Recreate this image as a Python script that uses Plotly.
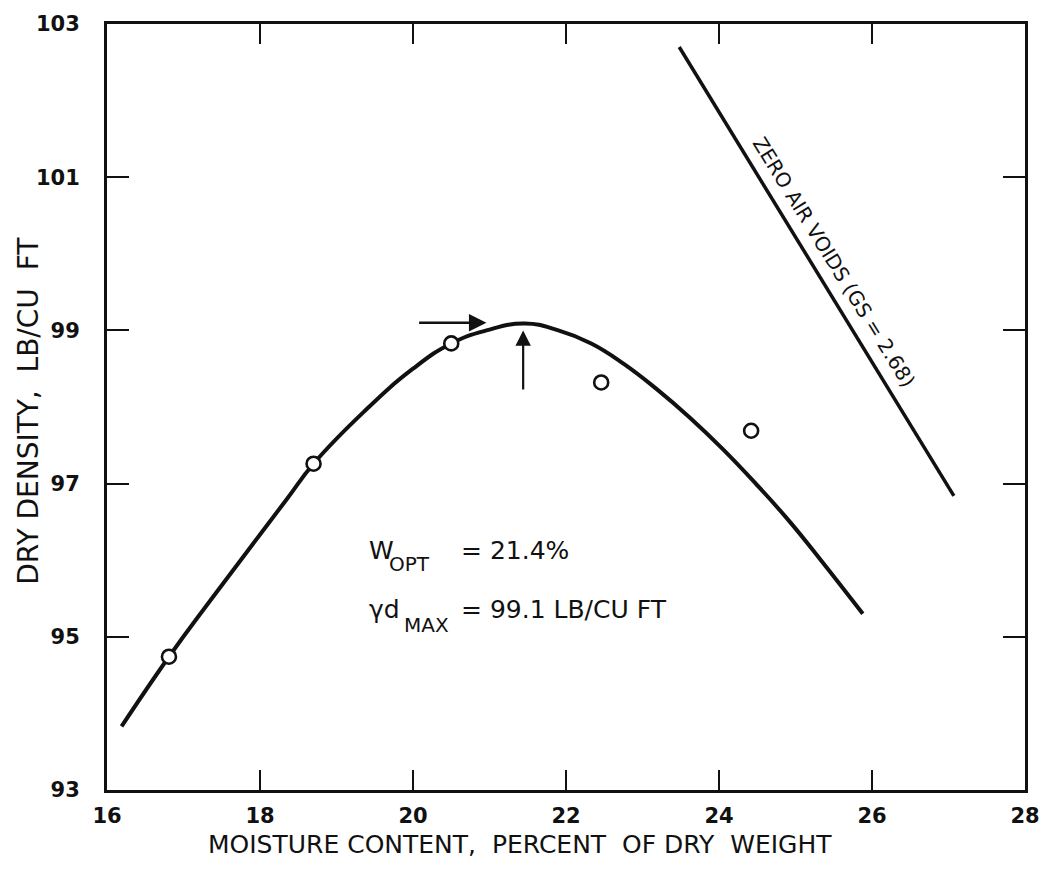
import plotly.graph_objects as go

# ---- data ----
x_ticks = [16, 18, 20, 22, 24, 26, 28]
y_ticks = [93, 95, 97, 99, 101, 103]

# measured compaction points (moisture %, dry density)
pts_w = [16.81, 18.70, 20.50, 22.46, 24.42]
pts_d = [94.74, 97.26, 98.83, 98.32, 97.69]

# hand-drawn compaction curve
curve_w = [16.19, 16.81, 17.37, 18.33, 18.70, 19.36, 20.00, 20.50, 20.96, 21.46,
           21.90, 22.33, 22.76, 23.19, 23.62, 24.05, 24.48, 24.91, 25.34, 25.88]
curve_d = [93.83, 94.74, 95.50, 96.77, 97.26, 97.94, 98.50, 98.83, 99.00, 99.09,
           99.00, 98.83, 98.56, 98.23, 97.86, 97.45, 97.00, 96.52, 95.99, 95.30]

# zero air voids line (Gs = 2.68), end points
zav_w = [23.48, 27.07]
zav_d = [102.70, 96.84]

w_opt = 21.4
gd_max = 99.1

# arrow end points
h_arrow_from = 20.06
h_arrow_to = 20.96
v_arrow_from = 98.21
v_arrow_to = 99.00

BLACK = "#111111"
TICKFONT = dict(family="DejaVu Sans", size=21, color=BLACK, weight="bold")

fig = go.Figure()

fig.add_trace(go.Scatter(x=curve_w, y=curve_d, mode="lines",
                         line=dict(color=BLACK, width=4, shape="spline", smoothing=1.3),
                         hoverinfo="skip"))
fig.add_trace(go.Scatter(x=zav_w, y=zav_d, mode="lines",
                         line=dict(color=BLACK, width=3.5), hoverinfo="skip"))
fig.add_trace(go.Scatter(x=pts_w, y=pts_d, mode="markers",
                         marker=dict(symbol="circle", size=14, color="white",
                                     line=dict(color=BLACK, width=2.6))))

ann = []
# arrows
ann.append(dict(x=h_arrow_to, y=gd_max, ax=h_arrow_from, ay=gd_max,
                xref="x", yref="y", axref="x", ayref="y", text="",
                showarrow=True, arrowhead=2, arrowsize=1.4, arrowwidth=2.5,
                arrowcolor=BLACK))
ann.append(dict(x=w_opt + 0.04, y=v_arrow_to, ax=w_opt + 0.04, ay=v_arrow_from,
                xref="x", yref="y", axref="x", ayref="y", text="",
                showarrow=True, arrowhead=2, arrowsize=1.4, arrowwidth=2.2,
                arrowcolor=BLACK))

TXT = dict(family="DejaVu Sans", size=25, color=BLACK)
SUB = dict(family="DejaVu Sans", size=20, color=BLACK)


def txt(x, y, s, font):
    return dict(x=x, y=y, xref="x", yref="y", xanchor="left", yanchor="middle",
                text=s, showarrow=False, font=font)


ann.append(txt(19.40, 96.13, "W", TXT))
ann.append(txt(19.66, 95.95, "OPT", SUB))
ann.append(txt(20.60, 96.13, f"= {w_opt}%", TXT))
ann.append(txt(19.40, 95.35, "γd", TXT))
ann.append(txt(19.85, 95.15, "MAX", SUB))
ann.append(txt(20.60, 95.35, f"= {gd_max} LB/CU FT", TXT))

# zero air voids label along the line
ann.append(dict(x=25.50, y=99.89, xref="x", yref="y", xanchor="center", yanchor="middle",
                text="ZERO AIR VOIDS (GS = 2.68)", textangle=58.3, showarrow=False,
                font=dict(family="DejaVu Sans", size=20, color=BLACK)))

# axis titles
ann.append(dict(x=21.40, y=-0.0715, xref="x", yref="paper", xanchor="center", yanchor="middle",
                text="MOISTURE CONTENT,\u00a0 PERCENT\u00a0 OF DRY\u00a0 WEIGHT", showarrow=False,
                font=dict(family="DejaVu Sans", size=25, color=BLACK)))
ann.append(dict(x=-0.085, y=97.95, xref="paper", yref="y", xanchor="center", yanchor="middle",
                text="DRY DENSITY,\u00a0 LB/CU\u00a0 FT", textangle=-90, showarrow=False,
                font=dict(family="DejaVu Sans", size=28, color=BLACK)))

fig.update_layout(width=1052, height=880,
                  margin=dict(l=107, r=16, t=21, b=90),
                  plot_bgcolor="white", paper_bgcolor="white",
                  showlegend=False, annotations=ann)

fig.update_xaxes(range=[16, 28], tickvals=x_ticks, ticktext=[str(v) for v in x_ticks],
                 ticks="inside", ticklen=20, tickwidth=2, tickcolor=BLACK,
                 showline=True, linewidth=3, linecolor=BLACK, mirror="ticks",
                 showgrid=False, zeroline=False, tickfont=TICKFONT, ticklabelstandoff=5)
fig.update_yaxes(range=[93, 103], tickvals=y_ticks, ticktext=[str(v) for v in y_ticks],
                 ticks="inside", ticklen=22, tickwidth=2, tickcolor=BLACK,
                 showline=True, linewidth=3, linecolor=BLACK, mirror="ticks",
                 showgrid=False, zeroline=False, tickfont=TICKFONT, ticklabelstandoff=20)

fig.write_html("out.html")
